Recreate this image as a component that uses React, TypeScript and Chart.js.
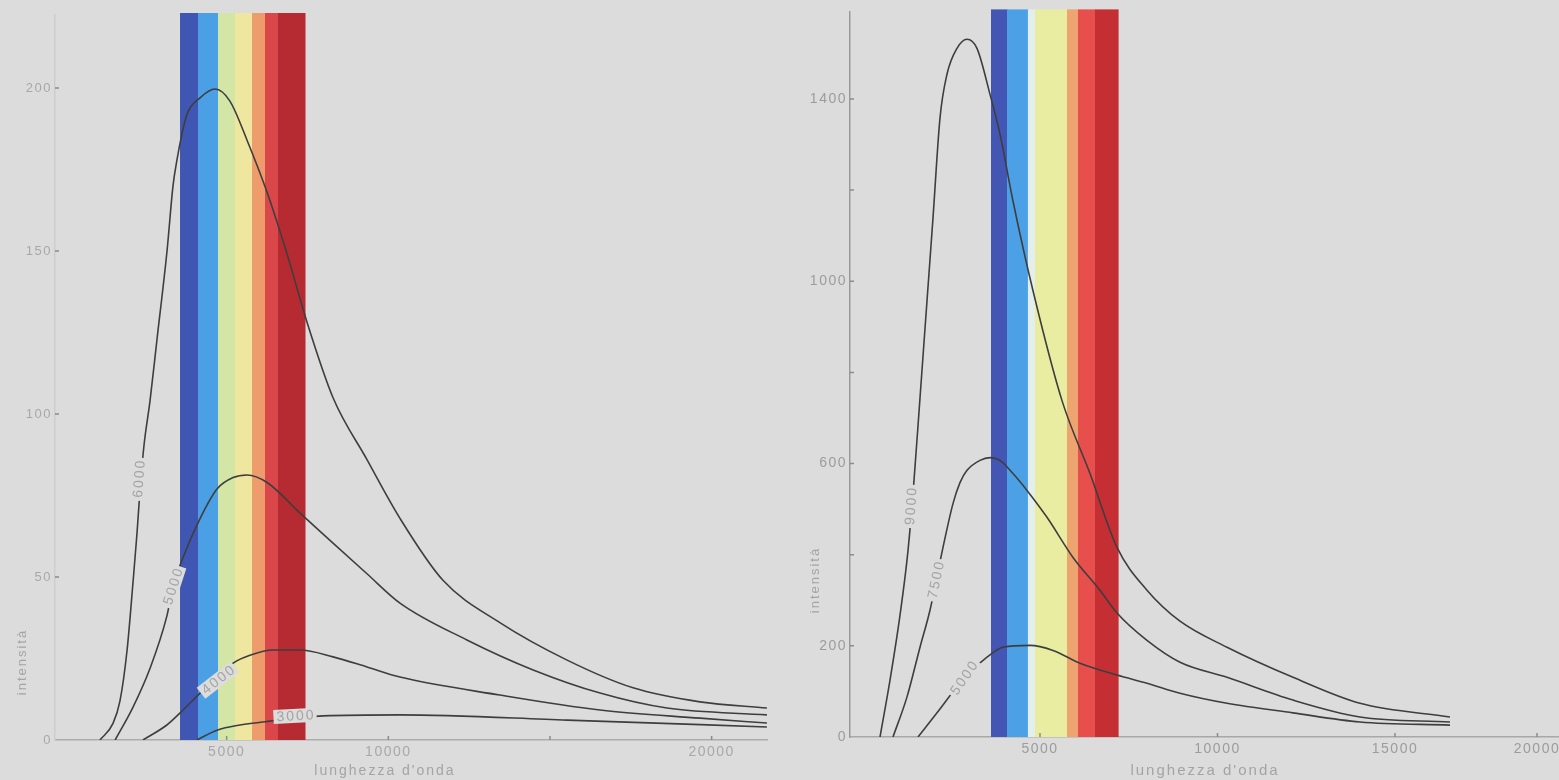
import React, { useEffect, useRef } from "react";
import { Chart, registerables } from "chart.js";

Chart.register(...registerables);

const BG = "#dcdcdc";
const FONT = "'Liberation Sans', Arial, sans-serif";
const CURVE = "#3e3e3e";
const TEXT = "#a4a4a4";

// ---------------- left chart ----------------
const leftXTicks = [5000, 10000, 15000, 20000];
const leftXTickLabels = ["5000", "10000", "", "20000"];
const leftYTicks = [0, 50, 100, 150, 200];
const leftYTickLabels = ["0", "50", "100", "150", "200"];

const leftT6000 = [
  [1080, 0], [1480, 5], [1700, 12], [1920, 27.6], [2100, 48], [2227, 63.5], [2320, 76.7],
  [2444, 90.5], [2629, 104], [2846, 123], [3155, 150], [3340, 170], [3464, 178], [3619, 186],
  [3774, 192], [4176, 197], [4640, 199.7], [5100, 196], [5630, 184], [6250, 168], [6870, 149],
  [7490, 128], [8290, 105], [9340, 86], [10360, 68], [11690, 49], [13450, 36], [15530, 24.5],
  [17570, 16], [19640, 11.7], [21710, 9.8],
];
const leftT5000 = [
  [1550, 0], [2100, 10], [2630, 22], [3150, 38], [3340, 47], [3650, 56], [4180, 68], [4700, 77],
  [5200, 80.5], [5630, 81.3], [6250, 79], [7270, 69.6], [8290, 60.4], [9340, 51], [10360, 42],
  [12430, 30.7], [14480, 21.5], [16550, 14.4], [18620, 9.8], [21710, 7.7],
];
const leftT4000 = [
  [2410, 0], [3150, 4.6], [3560, 8.3], [4180, 14.4], [4700, 19], [5200, 23.6], [5720, 26],
  [6430, 27.6], [7270, 27.6], [8290, 25.5], [9340, 22.4], [10360, 19.3], [13450, 13.8],
  [16550, 9.2], [19640, 6.7], [21710, 5.2],
];
const leftT3000 = [
  [4080, 0], [4700, 3], [5410, 4.6], [6340, 5.8], [7980, 7.4], [10360, 7.7], [15530, 6.1], [21710, 4],
];
const leftCurveLabels = ["6000", "5000", "4000", "3000"];
const leftLabelAnchors = [[2289, 80], [3340, 47], [4732, 18.4], [7114, 7.4]];
const leftLabelAngles = [-86, -72, -38, -3];
const leftBandStops = [3557, 4114, 4732, 5258, 5784, 6186, 6588, 7423];
const leftBandColors = ["#3f57b3", "#4b9fe5", "#d4e6a6", "#efe7a0", "#ee9c6c", "#d9474a", "#b62b31"];

// ---------------- right chart ----------------
const rightXTicks = [5000, 10000, 15000, 19000];
const rightXTickLabels = ["5000", "10000", "15000", "20000"];
const rightYTicks = [0, 200, 400, 600, 800, 1000, 1200, 1400];
const rightYTickLabels = ["0", "200", "", "600", "", "1000", "", "1400"];

const rightT9000 = [
  [493, 0], [775, 125], [1056, 267], [1282, 409], [1451, 563], [1620, 744], [1817, 957],
  [1986, 1139], [2183, 1358], [2380, 1454], [2662, 1511], [2944, 1531], [3225, 1511],
  [3592, 1410], [3873, 1323], [4239, 1176], [4803, 979], [5620, 738], [6408, 578], [7169, 416],
  [8014, 322], [8944, 254], [10268, 197], [12127, 131], [14014, 74], [16549, 44],
];
const rightT7500 = [
  [859, 0], [1254, 88], [1620, 197], [1901, 278], [2268, 416], [2549, 512], [2746, 558],
  [2944, 585], [3310, 607], [3592, 613], [3873, 607], [4239, 578], [4634, 541], [5197, 482],
  [5930, 394], [6690, 322], [7169, 272], [8014, 212], [8944, 164], [10268, 131], [12127, 81],
  [14014, 44], [16549, 33],
];
const rightT5000 = [
  [1563, 0], [2099, 53], [2859, 129], [3507, 175], [3958, 197], [4718, 201], [5366, 190],
  [6127, 162], [7169, 136], [8014, 118], [8944, 96], [10268, 74], [12127, 53], [14014, 33],
  [16549, 26],
];
const rightCurveLabels = ["9000", "7500", "5000"];
const rightLabelAnchors = [[1366, 506], [2070, 344], [2859, 129]];
const rightLabelAngles = [-86, -78, -55];
const rightBandStops = [3620, 4070, 4660, 4860, 5760, 6070, 6550, 7200];
const rightBandColors = ["#4356b4", "#4ca0e6", "#e4eeea", "#e9eda2", "#eea46e", "#e64f4c", "#c52e33"];

const yTitle = "intensità";
const xTitle = "lunghezza d'onda";

type Params = {
  series: number[][][];
  xMin: number;
  xMax: number;
  yMax: number;
  xTicks: number[];
  xTickLabels: string[];
  yTicks: number[];
  yTickLabels: string[];
  padding: { left: number; right: number; top: number; bottom: number };
  yAxisWidth: number;
  xAxisHeight: number;
  tickColor: string;
  xTickSize: number;
  yTickSize: number;
  yAxisColor: string;
  xAxisColor: string;
  bandStops: number[];
  bandColors: string[];
  bandExtend: number;
  labels: string[];
  anchors: number[][];
  angles: number[];
  yTitlePos: number[];
  xTitlePos: number[];
  xTitleSize: number;
};

function buildChart(canvas: HTMLCanvasElement, p: Params) {
  const spacingPlugin = {
    id: "spacing",
    beforeDraw(chart: any) {
      (chart.ctx as any).letterSpacing = "1.5px";
    },
  };
  const bandPlugin = {
    id: "bands",
    beforeDatasetsDraw(chart: any) {
      const { ctx, chartArea, scales } = chart;
      const yTop = chartArea.top - p.bandExtend;
      const yBot = scales.y.getPixelForValue(0);
      ctx.save();
      for (let i = 0; i < p.bandColors.length; i++) {
        const x0 = scales.x.getPixelForValue(p.bandStops[i]);
        const x1 = scales.x.getPixelForValue(p.bandStops[i + 1]);
        ctx.fillStyle = p.bandColors[i];
        ctx.fillRect(x0, yTop, x1 - x0 + 0.5, yBot - yTop);
      }
      ctx.restore();
    },
  };
  const labelPlugin = {
    id: "curveLabels",
    afterDatasetsDraw(chart: any) {
      const { ctx, scales } = chart;
      ctx.save();
      ctx.font = `14px ${FONT}`;
      (ctx as any).letterSpacing = "2px";
      ctx.textAlign = "center";
      ctx.textBaseline = "middle";
      p.labels.forEach((t, i) => {
        const px = scales.x.getPixelForValue(p.anchors[i][0]);
        const py = scales.y.getPixelForValue(p.anchors[i][1]);
        ctx.save();
        ctx.translate(px, py);
        ctx.rotate((p.angles[i] * Math.PI) / 180);
        const w = ctx.measureText(t).width + 4;
        ctx.fillStyle = BG;
        ctx.fillRect(-w / 2, -7, w, 14);
        ctx.fillStyle = TEXT;
        ctx.fillText(t, 1, 0.5);
        ctx.restore();
      });
      ctx.restore();
    },
  };
  const axisMarksPlugin = {
    id: "axisMarks",
    afterDatasetsDraw(chart: any) {
      const { ctx, scales } = chart;
      const xs = scales.x;
      const ys = scales.y;
      const x0 = xs.left;
      const y0 = ys.getPixelForValue(0);
      ctx.save();
      ctx.strokeStyle = "#8c8c8c";
      ctx.lineWidth = 1.5;
      ctx.beginPath();
      p.yTicks.forEach((v) => {
        if (v === 0) return;
        const py = ys.getPixelForValue(v);
        ctx.moveTo(x0, py);
        ctx.lineTo(x0 + 4, py);
      });
      p.xTicks.forEach((v) => {
        const px = xs.getPixelForValue(v);
        ctx.moveTo(px, y0);
        ctx.lineTo(px, y0 - 4);
      });
      ctx.stroke();
      ctx.restore();
    },
  };
  const titlePlugin = {
    id: "titles",
    afterDraw(chart: any) {
      const { ctx } = chart;
      ctx.save();
      ctx.fillStyle = TEXT;
      ctx.textAlign = "center";
      ctx.textBaseline = "middle";
      (ctx as any).letterSpacing = "2px";
      ctx.font = `13px ${FONT}`;
      ctx.save();
      ctx.translate(p.yTitlePos[0], p.yTitlePos[1]);
      ctx.rotate(-Math.PI / 2);
      ctx.fillText(yTitle, 0, 0);
      ctx.restore();
      ctx.font = `${p.xTitleSize}px ${FONT}`;
      ctx.fillText(xTitle, p.xTitlePos[0], p.xTitlePos[1]);
      ctx.restore();
    },
  };

  return new Chart(canvas, {
    type: "line",
    data: {
      datasets: p.series.map((s) => ({
        data: s.map(([x, y]) => ({ x, y })),
        borderColor: CURVE,
        borderWidth: 1.6,
        pointRadius: 0,
        fill: false,
        cubicInterpolationMode: "monotone",
      })),
    },
    options: {
      animation: false,
      responsive: false,
      devicePixelRatio: 1,
      events: [],
      layout: { autoPadding: false, padding: p.padding },
      plugins: { legend: { display: false }, tooltip: { enabled: false } },
      scales: {
        x: {
          type: "linear",
          min: p.xMin,
          max: p.xMax,
          afterBuildTicks: (s: any) => {
            s.ticks = p.xTicks.map((v) => ({ value: v }));
          },
          afterFit: (s: any) => {
            s.height = p.xAxisHeight;
          },
          ticks: {
            autoSkip: false,
            maxRotation: 0,
            minRotation: 0,
            padding: 4,
            color: p.tickColor,
            font: { family: FONT, size: p.xTickSize },
            callback: (_v: any, i: number) => p.xTickLabels[i],
          },
          grid: { display: true, drawOnChartArea: false, drawTicks: false, tickLength: 0, color: "rgba(0,0,0,0)" },
          border: { display: true, color: p.xAxisColor, width: 1.5 },
        },
        y: {
          type: "linear",
          min: 0,
          max: p.yMax,
          afterBuildTicks: (s: any) => {
            s.ticks = p.yTicks.map((v) => ({ value: v }));
          },
          afterFit: (s: any) => {
            s.width = p.yAxisWidth;
          },
          ticks: {
            autoSkip: false,
            padding: 3,
            color: p.tickColor,
            font: { family: FONT, size: p.yTickSize },
            callback: (_v: any, i: number) => p.yTickLabels[i],
          },
          grid: { display: true, drawOnChartArea: false, drawTicks: false, tickLength: 0, color: "rgba(0,0,0,0)" },
          border: { display: true, color: p.yAxisColor, width: 1.5 },
        },
      },
    } as any,
    plugins: [spacingPlugin, bandPlugin, axisMarksPlugin, labelPlugin, titlePlugin],
  });
}

const leftParams: Params = {
  series: [leftT6000, leftT5000, leftT4000, leftT3000],
  xMin: -310,
  xMax: 21713,
  yMax: 222.4,
  xTicks: leftXTicks,
  xTickLabels: leftXTickLabels,
  yTicks: leftYTicks,
  yTickLabels: leftYTickLabels,
  padding: { left: 0, right: 13, top: 15, bottom: 0 },
  yAxisWidth: 55,
  xAxisHeight: 40,
  tickColor: "#a8a8a8",
  xTickSize: 14,
  yTickSize: 13,
  yAxisColor: "#cdcdcd",
  xAxisColor: "#acacac",
  bandStops: leftBandStops,
  bandColors: leftBandColors,
  bandExtend: 2,
  labels: leftCurveLabels,
  anchors: leftLabelAnchors,
  angles: leftLabelAngles,
  yTitlePos: [22, 662],
  xTitlePos: [385, 771],
  xTitleSize: 14,
};

const rightParams: Params = {
  series: [rightT9000, rightT7500, rightT5000],
  xMin: -352,
  xMax: 20775,
  yMax: 1592,
  xTicks: rightXTicks,
  xTickLabels: rightXTickLabels,
  yTicks: rightYTicks,
  yTickLabels: rightYTickLabels,
  padding: { left: 0, right: 20, top: 10, bottom: 0 },
  yAxisWidth: 70,
  xAxisHeight: 43,
  tickColor: "#9c9c9c",
  xTickSize: 14,
  yTickSize: 14,
  yAxisColor: "#9a9a9a",
  xAxisColor: "#a8a8a8",
  bandStops: rightBandStops,
  bandColors: rightBandColors,
  bandExtend: 2,
  labels: rightCurveLabels,
  anchors: rightLabelAnchors,
  angles: rightLabelAngles,
  yTitlePos: [35, 580],
  xTitlePos: [425, 771],
  xTitleSize: 15,
};

function ChartCanvas({ left, width, params }: { left: number; width: number; params: Params }) {
  const ref = useRef<HTMLCanvasElement>(null);
  useEffect(() => {
    const chart = buildChart(ref.current as HTMLCanvasElement, params);
    return () => chart.destroy();
  }, []);
  return (
    <canvas
      ref={ref}
      width={width}
      height={780}
      style={{ position: "absolute", left, top: 0, width, height: 780, display: "block" }}
    />
  );
}

export default function App() {
  return (
    <div
      style={{
        position: "fixed",
        left: 0,
        top: 0,
        width: 1559,
        height: 780,
        overflow: "hidden",
        background: BG,
      }}
    >
      <ChartCanvas left={0} width={780} params={leftParams} />
      <ChartCanvas left={780} width={840} params={rightParams} />
    </div>
  );
}
